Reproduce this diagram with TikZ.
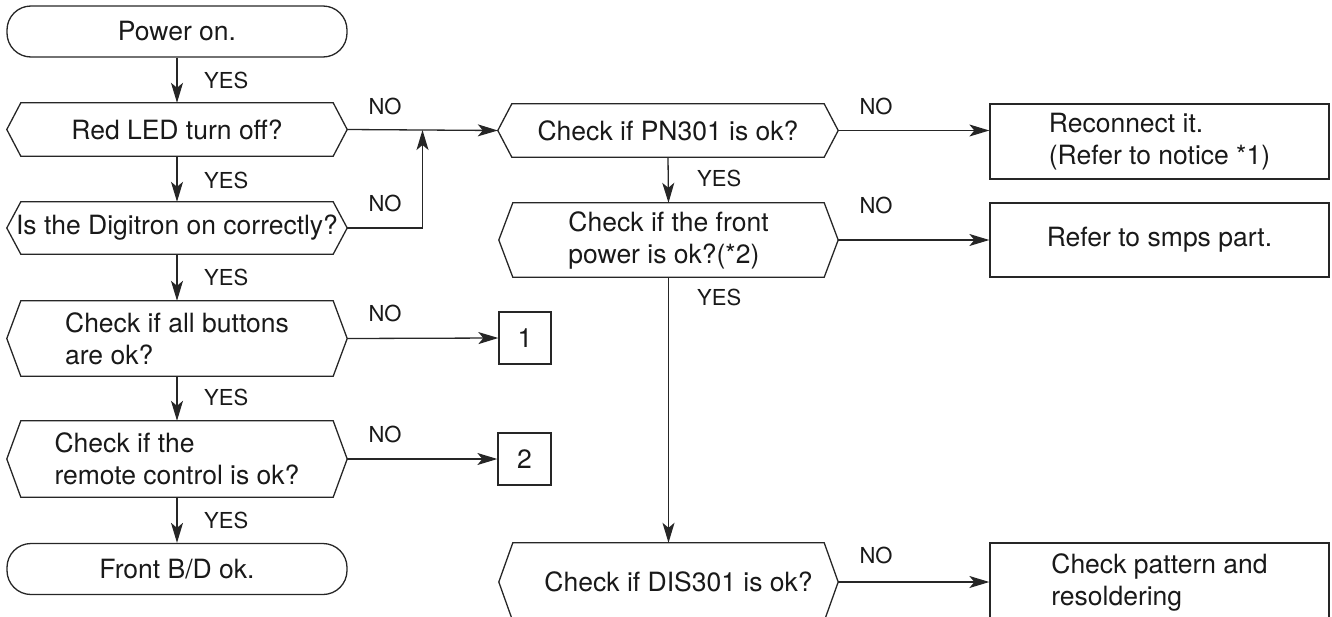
\documentclass[tikz,border=0pt]{standalone}
\usepackage{fontspec}
\setmainfont{TeX Gyre Heros}
\usetikzlibrary{arrows.meta,calc}
\newcommand\hexdraw[1]{\draw[ln] ($(#1.north west)+(14,0)$) -- ($(#1.north east)+(-14,0)$) -- (#1.east) -- ($(#1.south east)+(-14,0)$) -- ($(#1.south west)+(14,0)$) -- (#1.west) -- cycle;}
\begin{document}
\begin{tikzpicture}[x=1pt,y=-1pt,
  ln/.style={line width=1.3pt, draw=black!85},
  arr/.style={ln, -{Stealth[length=20pt,width=12pt,inset=5pt]}},
  txt/.style={font=\fontsize{26.5}{32}\selectfont, text=black!90, align=left, inner sep=0pt},
  lbl/.style={font=\fontsize{22}{26}\selectfont, text=black!90, inner sep=0pt},
  box/.style={txt, minimum width=#1},
  term/.style={txt, ln, draw, rounded corners=24pt, minimum width=340pt, minimum height=51pt},
  rbox/.style={txt, ln, draw, minimum width=339pt}
]
\useasboundingbox (0,0) rectangle (1332,616);

% left column
\node[term] (start) at (177,31.5) {Power on.};
\node[box=340pt, minimum height=53pt] (d1) at (177,129.5) {Red LED turn off?};
\node[box=340pt, minimum height=52pt] (d2) at (177,228) {Is the Digitron on correctly?};
\node[box=340pt, minimum height=75pt] (d3) at (177,338.5) {Check if all buttons\\are ok?};
\node[box=340pt, minimum height=76pt] (d4) at (177,459) {Check if the\\remote control is ok?};
\node[term] (end) at (177,569) {Front B/D ok.};
\hexdraw{d1}\hexdraw{d2}\hexdraw{d3}\hexdraw{d4}

\node[txt, ln, draw, minimum width=52pt, minimum height=52pt] (b1) at (525,338) {1};
\node[txt, ln, draw, minimum width=53pt, minimum height=52pt] (b2) at (524.5,459) {2};

% middle column
\node[box=340pt, minimum height=53pt] (p1) at (668,130.5) {Check if PN301 is ok?};
\node[box=339pt, minimum height=74pt] (fp) at (668.5,240) {Check if the front\\power is ok?(*2)};
\node[box=339pt, minimum height=78pt] (dis) at (668.5,582) {\hspace*{20pt}Check if DIS301 is ok?};
\hexdraw{p1}\hexdraw{fp}\hexdraw{dis}

% right column
\node[rbox, minimum height=75pt] (r1) at (1159.5,141.5) {Reconnect it.\\(Refer to notice *1)};
\node[rbox, minimum height=74pt] (r2) at (1159.5,240) {Refer to smps part.};
\node[rbox, minimum height=78pt] (r3) at (1159.5,582) {Check pattern and\\resoldering};

% connectors
\draw[arr] (start.south) -- (d1.north);
\draw[arr] (d1.south) -- (d2.north);
\draw[arr] (d2.south) -- (d3.north);
\draw[arr] (d3.south) -- (d4.north);
\draw[arr] (d4.south) -- (end.north);
\coordinate (j) at ($(d1.east)!0.5!(p1.west)$);
\draw[arr] (d1.east) -- (p1.west);
\draw[arr] (d2.east) -| (j);
\draw[arr] (d3.east) -- (b1.west);
\draw[arr] (d4.east) -- (b2.west);
\draw[arr] (p1.south) -- (fp.north);
\draw[arr] (fp.south) -- (dis.north);
\draw[arr] (p1.east) -- (p1.east -| r1.west);
\draw[arr] (fp.east) -- (r2.west);
\draw[arr] (dis.east) -- (r3.west);

% labels
\node[lbl, anchor=west] (y1) at (204,80) {YES};
\node[lbl, anchor=west] (y2) at (204,180) {YES};
\node[lbl, anchor=west] (y3) at (204,277) {YES};
\node[lbl, anchor=west] (y4) at (204,397) {YES};
\node[lbl, anchor=west] (y5) at (204,520) {YES};
\node[lbl, anchor=west] (y6) at (697,178) {YES};
\node[lbl, anchor=west] (y7) at (697,297) {YES};
\node[lbl] (n1) at (385,106) {NO};
\node[lbl] (n2) at (385,203) {NO};
\node[lbl] (n3) at (385,313) {NO};
\node[lbl] (n4) at (385,434) {NO};
\node[lbl] (n5) at (876,106) {NO};
\node[lbl] (n6) at (876,205) {NO};
\node[lbl] (n7) at (876,555) {NO};
\end{tikzpicture}
\end{document}
